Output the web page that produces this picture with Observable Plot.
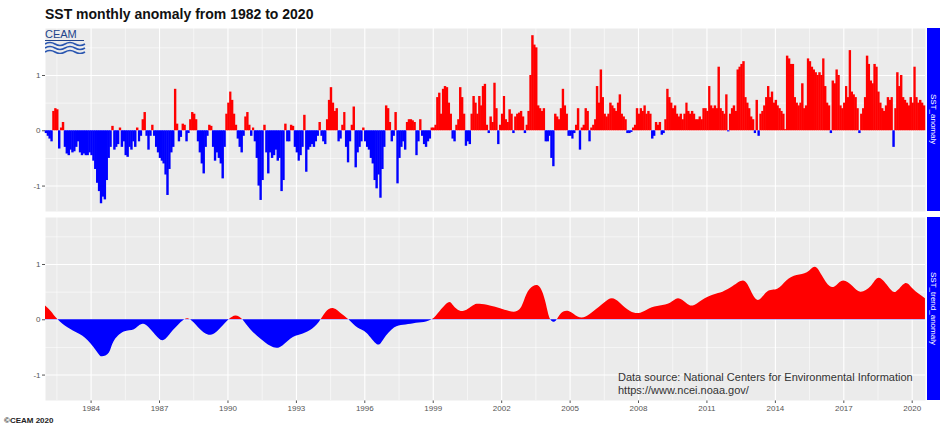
<!DOCTYPE html>
<html><head><meta charset="utf-8">
<script src="https://cdn.jsdelivr.net/npm/d3@7"></script>
<script src="https://cdn.jsdelivr.net/npm/@observablehq/plot@0.6"></script>
<style>
html,body{margin:0;padding:0;background:#fff;}
#wrap{position:relative;width:940px;height:429px;overflow:hidden;font-family:"Liberation Sans",Arial,sans-serif;background:#fff;}
.abs{position:absolute;}
#title{left:45px;top:6px;font-weight:bold;font-size:14px;color:#111;white-space:nowrap;}
.strip{position:absolute;left:927px;width:13px;background:#0000ff;color:#fff;font-size:8px;display:flex;align-items:center;justify-content:center;}
.strip span{writing-mode:vertical-rl;white-space:nowrap;}
#caption{left:4px;top:416px;font-size:8px;font-weight:bold;color:#222;white-space:nowrap;}
#source{left:618px;top:371px;font-size:11px;color:#333;line-height:13px;white-space:nowrap;}
</style></head>
<body>
<div id="wrap">
  <div id="title" class="abs">SST monthly anomaly from 1982 to 2020</div>
  <div id="topPanel" class="abs" style="left:0;top:28px"></div>
  <div id="bottomPanel" class="abs" style="left:0;top:217px"></div>
  <div class="strip" style="top:28px;height:183px"><span>SST_anomaly</span></div>
  <div class="strip" style="top:217px;height:183px"><span>SST_trend_anomaly</span></div>
  <svg class="abs" style="left:45px;top:29px" width="42" height="25">
    <text x="0" y="9" font-size="11" font-family="Liberation Sans, Arial, sans-serif" fill="#22448c">CEAM</text>
    <rect x="0" y="11" width="39" height="1" fill="#22448c"></rect>
    <path d="M0 15 q5 -3 10 0 t10 0 t10 0 t10 0" stroke="#2a56b0" stroke-width="1.6" fill="none"></path>
    <path d="M0 19 q5 -3 10 0 t10 0 t10 0 t10 0" stroke="#2a56b0" stroke-width="1.6" fill="none"></path>
    <path d="M0 23 q5 -3 10 0 t10 0 t10 0 t10 0" stroke="#2a56b0" stroke-width="1.6" fill="none"></path>
  </svg>
  <div id="source" class="abs">Data source: National Centers for Environmental Information<br>https://www.ncei.noaa.gov/</div>
  <div id="caption" class="abs">©CEAM 2020</div>
</div>
<script>
// ---------------- DATA ----------------
const startYear = 1982;
// monthly SST anomaly, one row per year (Jan..Dec), 2020 up to July
const sstAnomaly = [
  -0.05,-0.1,-0.15,-0.2,0.35,0.4,0.38,-0.33,0.05,0.15,-0.3,-0.42,
  -0.45,-0.35,-0.4,-0.38,-0.3,-0.2,-0.4,-0.45,-0.42,-0.45,-0.45,-0.4,
  -0.45,-0.55,-0.7,-0.95,-1.1,-1.32,-1.2,-1.25,-0.9,-0.5,-0.3,0.08,
  -0.35,-0.3,-0.25,0.05,-0.3,-0.2,-0.45,-0.48,-0.3,-0.35,-0.2,-0.3,
  0.05,-0.2,-0.1,0.2,0.33,-0.1,-0.35,-0.1,0.1,-0.1,-0.3,-0.4,
  -0.5,-0.55,-0.6,-0.8,-1.17,-0.7,-0.4,-0.3,0.75,0.12,-0.2,-0.12,
  0.12,0.1,-0.2,-0.05,0.2,0.33,0.3,0.2,-0.2,-0.4,-0.6,-0.78,
  -0.3,-0.1,0.1,0.08,-0.3,-0.55,-0.4,-0.5,-0.6,-0.87,-0.3,0.3,
  0.5,0.7,0.55,0.3,0.1,-0.15,-0.3,-0.4,-0.1,0.25,0.33,0.1,
  -0.1,0.05,-0.2,-0.5,-1.0,-1.26,-0.9,0.1,-0.4,-0.78,-0.4,-0.5,
  -0.45,-0.35,-0.55,-0.5,-1.1,-0.9,0.12,-0.2,-0.2,0.1,0.08,-0.3,
  -0.4,-0.55,-0.45,-0.3,0.28,-0.75,-0.35,-0.3,-0.25,-0.3,-0.2,-0.1,
  0.15,-0.1,-0.2,-0.25,0.2,0.55,0.78,0.5,0.35,0.4,-0.2,-0.15,
  0.1,0.33,-0.3,-0.58,-0.2,0.1,0.43,-0.67,-0.4,-0.3,-0.2,0.05,
  -0.2,-0.3,-0.35,-0.5,-0.6,-0.9,-1.05,-0.8,-1.22,-0.7,-0.3,0.45,
  0.4,0.15,-0.2,-0.1,0.33,-0.96,-0.5,-0.3,-0.2,-0.35,0.15,0.2,
  0.2,0.18,0.15,-0.45,-0.2,0.2,-0.1,-0.25,-0.3,-0.2,-0.15,0.05,
  0.05,0.1,0.6,0.68,0.3,0.75,0.8,0.78,0.5,0.3,-0.15,-0.2,
  0.1,0.2,0.78,0.6,0.3,-0.28,-0.2,-0.25,0.3,0.62,0.5,0.3,
  0.62,0.45,0.8,0.84,0.1,-0.05,0.25,0.15,0.86,0.4,-0.25,0.1,
  0.3,0.62,0.2,0.15,0.38,0.3,-0.05,0.25,0.3,0.32,0.35,0.25,
  -0.05,0.1,0.35,1.0,1.72,1.55,1.5,0.45,0.4,0.35,0.4,-0.2,
  -0.2,-0.1,-0.5,-0.65,0.3,0.25,0.2,0.4,0.75,0.45,0.3,-0.1,
  -0.1,-0.15,-0.05,0.1,0.4,-0.35,0.05,0.1,0.4,0.35,-0.2,0.05,
  0.1,0.2,0.8,0.5,1.1,0.6,0.3,0.25,0.3,0.5,0.45,0.4,
  0.35,0.5,0.65,0.3,0.25,0.2,-0.05,-0.05,-0.03,0.05,0.1,0.4,
  0.3,0.4,0.35,0.45,0.3,0.35,0.3,-0.15,-0.1,0.15,0.1,0.15,
  -0.08,-0.05,0.2,0.75,0.6,0.5,0.4,0.45,0.3,0.25,0.3,0.2,
  0.3,0.5,0.35,0.3,0.35,0.3,0.2,0.2,0.25,0.2,0.4,0.4,
  0.35,0.8,0.45,0.4,0.45,0.4,1.15,0.4,0.35,0.3,0.65,-0.02,
  0.3,0.4,0.45,0.35,1.1,1.15,1.2,1.25,0.6,0.5,0.4,0.25,
  0.2,-0.05,0.55,-0.1,0.3,0.35,0.45,0.6,0.8,0.6,0.7,0.5,
  0.55,0.45,0.4,0.35,0.3,0.02,1.35,1.3,1.2,1.2,0.6,0.5,
  0.45,0.5,0.85,0.4,0.45,1.3,1.25,1.15,1.1,1.05,1.0,1.05,
  1.0,1.3,0.8,0.5,0.45,-0.05,0.9,0.85,1.1,1.0,0.45,0.4,
  0.5,0.8,0.6,1.45,0.7,0.65,0.6,0.4,-0.05,0.3,0.4,0.6,
  1.35,1.2,0.9,0.85,1.2,1.15,0.7,0.5,0.4,0.35,0.45,0.6,
  0.55,0.6,-0.3,0.4,1.05,0.8,1.0,0.6,0.55,0.5,0.45,0.6,
  0.5,1.15,0.6,0.5,0.55,0.5,0.45
];
// smoothed trend anomaly (decimal year, value)
const trendYears = [1982.0,1982.25,1982.55,1983.0,1983.43,1983.87,1984.3,1984.5,1984.8,1985.0,1985.45,1985.9,1986.3,1986.77,1987.15,1987.5,1987.95,1988.25,1988.5,1988.8,1989.25,1989.7,1990.05,1990.35,1990.65,1991.0,1991.45,1991.88,1992.3,1992.75,1993.2,1993.6,1994.0,1994.3,1994.65,1995.0,1995.3,1995.7,1996.1,1996.55,1996.85,1997.3,1997.7,1998.15,1998.6,1998.95,1999.2,1999.65,1999.9,2000.3,2000.75,2001.05,2001.5,2001.95,2002.35,2002.8,2003.1,2003.4,2003.7,2003.95,2004.15,2004.4,2004.6,2004.95,2005.35,2005.7,2006.05,2006.5,2006.85,2007.2,2007.65,2008.1,2008.5,2008.95,2009.4,2009.75,2010.1,2010.4,2010.8,2011.3,2011.7,2012.15,2012.6,2012.9,2013.25,2013.65,2014.1,2014.5,2014.95,2015.4,2015.75,2016.05,2016.4,2016.7,2017.0,2017.4,2017.75,2018.2,2018.55,2018.95,2019.3,2019.7,2020.05,2020.58];
const trendValues = [0.25,0.15,0.0,-0.15,-0.25,-0.38,-0.6,-0.67,-0.6,-0.4,-0.22,-0.18,-0.08,-0.25,-0.38,-0.25,-0.05,0.02,-0.05,-0.18,-0.28,-0.15,0.0,0.07,0.0,-0.18,-0.35,-0.48,-0.5,-0.35,-0.27,-0.2,-0.05,0.13,0.2,0.1,0.0,-0.15,-0.25,-0.45,-0.35,-0.15,-0.1,-0.07,-0.05,0.0,0.1,0.3,0.25,0.15,0.25,0.28,0.25,0.2,0.15,0.18,0.45,0.6,0.58,0.3,0.0,-0.02,0.1,0.15,0.05,0.05,0.15,0.3,0.38,0.3,0.15,0.12,0.2,0.25,0.3,0.38,0.3,0.25,0.35,0.45,0.5,0.6,0.7,0.55,0.35,0.5,0.55,0.7,0.8,0.85,0.95,0.8,0.6,0.62,0.7,0.6,0.5,0.6,0.75,0.6,0.5,0.65,0.55,0.38];
const xTickYears = [1984,1987,1990,1993,1996,1999,2002,2005,2008,2011,2014,2017,2020];
const xMinorYears = [1982.5,1985.5,1988.5,1991.5,1994.5,1997.5,2000.5,2003.5,2006.5,2009.5,2012.5,2015.5,2018.5];
const yTicks = [-1, 0, 1];
const yMinor = [-0.5, 0.5, 1.5];
const posColor = "#ff0000", negColor = "#0000ff";

// ---------------- BUILD ----------------
const yearMs = y => Date.UTC(Math.floor(y), 0, 1);
const decToDate = y => { const a = yearMs(y), b = Date.UTC(Math.floor(y) + 1, 0, 1); return new Date(a + (y - Math.floor(y)) * (b - a)); };
const monthly = sstAnomaly.map((v, i) => ({
  date: new Date(Date.UTC(startYear, i, 1)),
  end: new Date(Date.UTC(startYear, i + 1, 1)),
  value: v
}));
const trend = trendYears.map((y, i) => ({date: decToDate(y), value: trendValues[i]}));
const xDomain = [monthly[0].date, monthly[monthly.length - 1].end];
const xTickDates = xTickYears.map(decToDate);
const xMinorDates = xMinorYears.map(decToDate);
const yDomain = [-1.46, 1.85];
const W = 925, ML = 45, PH = 183;
const baseStyle = {fontSize: "8px", fontFamily: "Liberation Sans, Arial, sans-serif", color: "#555", background: "transparent", overflow: "visible"};

function gridMarks() {
  return [
    Plot.frame({fill: "#ebebeb", stroke: "none"}),
    Plot.ruleY(yMinor, {stroke: "#fff", strokeWidth: 0.55}),
    Plot.ruleX(xMinorDates, {stroke: "#fff", strokeWidth: 0.55}),
    Plot.ruleY(yTicks, {stroke: "#fff", strokeWidth: 1.1}),
    Plot.ruleX(xTickDates, {stroke: "#fff", strokeWidth: 1.1})
  ];
}

const topPlot = Plot.plot({
  width: W, height: PH, marginLeft: ML, marginRight: 0, marginTop: 0, marginBottom: 0,
  style: baseStyle,
  x: {type: "utc", domain: xDomain, axis: null},
  y: {domain: yDomain, ticks: yTicks, tickFormat: d => String(d), tickSize: 3, tickPadding: 2, label: null},
  color: {type: "identity"},
  marks: [
    ...gridMarks(),
    Plot.rect(monthly, {x1: "date", x2: "end", y1: 0, y2: "value", insetLeft: -0.25, insetRight: -0.25,
      fill: d => d.value >= 0 ? posColor : negColor})
  ]
});
document.getElementById("topPanel").appendChild(topPlot);

const bottomPlot = Plot.plot({
  width: W, height: PH + 20, marginLeft: ML, marginRight: 0, marginTop: 0, marginBottom: 20,
  style: baseStyle,
  x: {type: "utc", domain: xDomain, ticks: xTickDates, tickFormat: d3.utcFormat("%Y"), tickSize: 3, tickPadding: 2, label: null},
  y: {domain: yDomain, ticks: yTicks, tickFormat: d => String(d), tickSize: 3, tickPadding: 2, label: null},
  marks: [
    ...gridMarks(),
    Plot.area(trend, {x1: "date", y1: 0, y2: "value", curve: "natural", fill: posColor})
  ]
});
document.getElementById("bottomPanel").appendChild(bottomPlot);

// split trend fill at zero: red above, blue below
(function () {
  const svg = bottomPlot.tagName.toLowerCase() === "svg" ? bottomPlot : bottomPlot.querySelector("svg");
  const ys = bottomPlot.scale("y");
  const y0 = ys && ys.apply ? ys.apply(0) : (yDomain[1] / (yDomain[1] - yDomain[0])) * PH;
  const H = PH + 20;
  const ns = "http://www.w3.org/2000/svg";
  const defs = document.createElementNS(ns, "defs");
  const g = document.createElementNS(ns, "linearGradient");
  g.setAttribute("id", "trendGrad");
  g.setAttribute("gradientUnits", "userSpaceOnUse");
  g.setAttribute("x1", 0); g.setAttribute("x2", 0); g.setAttribute("y1", 0); g.setAttribute("y2", H);
  [[y0 / H, posColor], [y0 / H, negColor]].forEach(([o, c]) => {
    const s = document.createElementNS(ns, "stop");
    s.setAttribute("offset", o); s.setAttribute("stop-color", c);
    g.appendChild(s);
  });
  defs.appendChild(g);
  svg.insertBefore(defs, svg.firstChild);
  svg.querySelectorAll('g[aria-label="area"], g[aria-label="area"] path').forEach(el => el.setAttribute("fill", "url(#trendGrad)"));
})();
</script>
</body></html>
